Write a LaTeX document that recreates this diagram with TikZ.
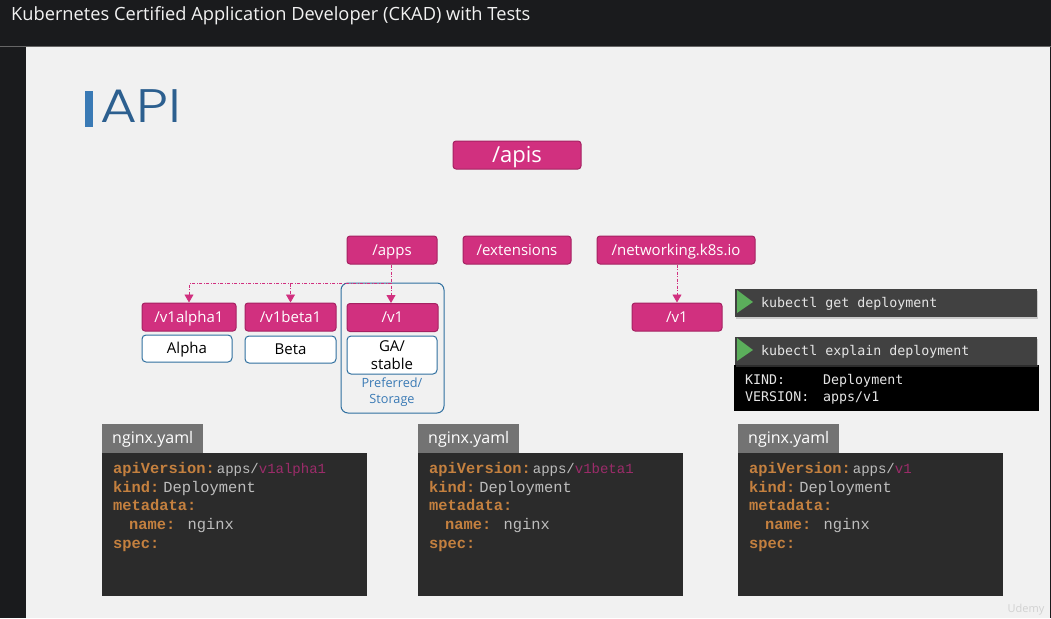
\documentclass[tikz,border=0pt]{standalone}
\usepackage{fontspec}
\usetikzlibrary{arrows.meta,shadows}
\setmainfont{Open Sans}
\newfontfamily\apifont[FakeStretch=1.2]{Poppins Light}
\newfontfamily\yamlfont{Liberation Mono}
\newfontfamily\cmdfont{DejaVu Sans Mono}
\definecolor{frame}{HTML}{1A1B1D}
\definecolor{slide}{HTML}{F1F1F1}
\definecolor{pinkfill}{HTML}{D1307F}
\definecolor{pinkline}{HTML}{A52262}
\definecolor{blueline}{HTML}{2F6F9F}
\definecolor{titleblue}{HTML}{2C5F8F}
\definecolor{barblue}{HTML}{3A7AB5}
\definecolor{cmdgrey}{HTML}{414141}
\definecolor{playgreen}{HTML}{5BAE5B}
\definecolor{tabgrey}{HTML}{737373}
\definecolor{codegrey}{HTML}{2B2B2B}
\definecolor{keyorange}{HTML}{C4803F}
\definecolor{valgrey}{HTML}{BDBDBD}
\definecolor{vermagenta}{HTML}{9C2C6A}
\tikzset{
  oneline/.style={text height=10pt,text depth=0pt},
  apibox/.style={oneline,draw=pinkline,fill=pinkfill,text=white,rounded corners=3pt,line width=1pt,
    minimum height=28pt,inner sep=0pt,font=\fontsize{15}{18}\selectfont},
  statebox/.style={draw=blueline,fill=white,text=black,rounded corners=4pt,line width=1pt,
    minimum width=90pt,inner sep=0pt,align=center,font=\fontsize{15}{18.5}\selectfont},
  link/.style={color=pinkfill,line width=0.8pt,dash pattern=on 3pt off 1.5pt on 1pt off 1.5pt,
    -{Triangle[width=9pt,length=8pt]}},
  cmdbox/.style={fill=cmdgrey,minimum width=302pt,minimum height=28pt,inner sep=0pt,
    drop shadow={shadow xshift=1pt,shadow yshift=-2pt,opacity=0.35}},
  cmdtext/.style={anchor=west,inner sep=0pt,text=white!90!black,text height=9pt,text depth=0pt,
    font=\cmdfont\fontsize{13.3}{16}\selectfont},
  tabbox/.style={oneline,fill=tabgrey,text=white,minimum width=101pt,minimum height=29pt,inner sep=0pt,
    font=\fontsize{16}{19}\selectfont},
  codebox/.style={fill=codegrey,minimum width=265pt,minimum height=143pt,inner sep=0pt},
  codetext/.style={anchor=north west,inner sep=0pt,align=left,text=valgrey,
    font=\yamlfont\fontsize{15.4}{18.8}\selectfont},
}
\newcommand{\yamlkey}[1]{\textcolor{keyorange}{\textbf{#1}}}
\begin{document}
\begin{tikzpicture}[x=1pt,y=-1pt]
\useasboundingbox (0,0) rectangle (1051,618);
\fill[frame] (0,0) rectangle (1051,618);
\fill[slide] (26,47) rectangle (1050,618);
\draw[black!60,line width=0.6pt] (0,46) -- (1051,46);
\node[anchor=west,inner sep=0pt,text=white!95!black,font=\fontsize{18.25}{21}\selectfont] (title) at (11,16)
  {Kubernetes Certified Application Developer (CKAD) with Tests};
\fill[barblue] (85,91) rectangle (93,127);
\node[anchor=base west,inner sep=0pt,text=titleblue,font=\apifont\fontsize{47}{50}\selectfont] (api) at (100,122) {API};

\node[draw=blueline,fill=none,rounded corners=7pt,line width=1pt,minimum width=103pt,minimum height=130pt,inner sep=0pt] (stable) at (392.5,348) {};
\node[apibox,minimum width=128pt,text height=14pt,font=\fontsize{22}{26}\selectfont] (apis) at (517,155) {/apis};
\node[apibox,minimum width=90pt] (apps) at (392,250) {/apps};
\node[apibox,minimum width=108pt] (extensions) at (517,250) {/extensions};
\node[apibox,minimum width=158pt] (networking) at (676,250) {/networking.k8s.io};
\node[apibox,minimum width=94pt] (alpha) at (189,317) {/v1alpha1};
\node[apibox,minimum width=91pt] (beta) at (290.5,317) {/v1beta1};
\node[apibox,minimum width=91pt] (vone) at (392.5,317.5) {/v1};
\node[apibox,minimum width=90pt] (netone) at (677,317) {/v1};
\node[statebox,oneline,minimum height=27pt] (alphastate) at (187,348.5) {Alpha};
\node[statebox,oneline,minimum height=27pt,minimum width=91pt] (betastate) at (290.5,349.5) {Beta};
\node[statebox,minimum height=38pt] (gastate) at (392,355) {GA/\\stable};
\node[inner sep=0pt,align=center,text=barblue,font=\fontsize{12.7}{15.5}\selectfont] (preferred) at (392,392) {Preferred/\\Storage};

\coordinate (branch) at (391,283.5);
\coordinate (betatop) at (beta.north |- branch);
\draw[link] (apps.south -| branch) -- (vone.north -| branch);
\draw[link] (betatop) -- (beta.north);
\draw[link] (branch) -| (alpha.north);
\draw[link] (networking.south -| netone) -- (netone.north);

\node[cmdbox] (getbar) at (886,303) {};
\fill[playgreen] (737,290) -- (753,302) -- (737,313) -- cycle;
\node[cmdtext] (getcmd) at (761,302.5) {kubectl get deployment};
\node[fill=black,minimum width=305pt,minimum height=46pt,inner sep=0pt] (output) at (886.5,388) {};
\node[cmdbox,drop shadow={opacity=0}] (explainbar) at (886,351) {};
\fill[playgreen] (737,338) -- (753,350) -- (737,361) -- cycle;
\node[cmdtext] (explaincmd) at (761,351) {kubectl explain deployment};
\node[cmdtext] (kind) at (745,379.5) {KIND:};
\node[cmdtext] (version) at (745,396.5) {VERSION:};
\node[cmdtext] (kindval) at (823,379.5) {Deployment};
\node[cmdtext] (versionval) at (823,396.5) {apps/v1};

\foreach \x/\ver/\nm in {102/v1alpha1/a,418/v1beta1/b,738/v1/c} {
\node[tabbox,anchor=south west] (tab\nm) at (\x,453) {nginx.yaml};
\node[codebox,anchor=north west] (code\nm) at (\x,453) {};
\node[codetext] (yaml\nm) at (\x+11,462) {\yamlkey{apiVersion:}\hspace{2pt}{\fontsize{14}{18.8}\selectfont apps/\textcolor{vermagenta}{\ver}}\\
\yamlkey{kind:}\hspace{4pt}Deployment\\
\yamlkey{metadata:}\\
\hspace*{16pt}\yamlkey{name:} nginx\\
\yamlkey{spec:}};
}
\node[inner sep=0pt,text=black!18,font=\fontsize{11}{13}\selectfont] (udemy) at (1026,610) {Udemy};
\end{tikzpicture}
\end{document}
